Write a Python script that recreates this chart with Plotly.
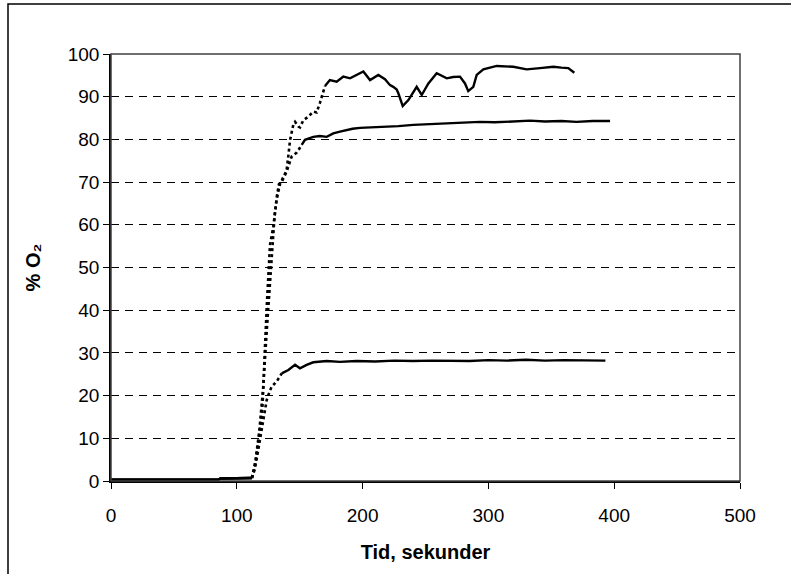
import plotly.graph_objects as go

# Series A (upper curve, ~96 %)
tA = [0, 40, 85, 87, 100, 112, 114.5, 116.3, 117.9, 119.8, 120.6, 121.1, 122.4, 124, 126.4, 129, 130.4, 131.7, 134.3,
      139.6, 141, 142.3, 144.9, 146.3, 149, 150.2, 152.9, 156.8, 160.8, 163.5, 166, 167.5, 170.1, 174, 179.4,
      184.7, 190, 195.3, 200.6, 205.9, 212.5, 217.8, 221.8, 224.4, 227.1, 228.4, 231.9, 236.4, 240.3, 243,
      247, 252.3, 258.9, 266.9, 272, 277.4, 281.4, 284, 288, 290.7, 296, 306.6, 319.8, 330.4, 341, 351.6,
      358, 363.5, 368.3]
vA = [0.3, 0.3, 0.3, 0.6, 0.6, 0.7, 3.4, 7.7, 11.2, 14.7, 18.6, 23.7, 31.4, 42, 55.3, 59.5, 63.5, 66, 69.5,
      72.8, 76.2, 79.8, 83.4, 84.1, 83, 82.8, 84.5, 85.3, 86.5, 86.3, 88.5, 90, 92.5, 93.9, 93.5,
      94.7, 94.3, 95.1, 95.9, 93.9, 95.1, 94.1, 92.7, 92.3, 91.7, 90.8, 87.8, 89.2, 91.2, 92.3,
      90.4, 93.1, 95.5, 94.3, 94.6, 94.7, 93.1, 91.3, 92.3, 95.1, 96.4, 97.2, 97, 96.4, 96.7, 97,
      96.8, 96.7, 95.6]

# Series B (middle curve, ~84 %)
tB = [0, 40, 85, 87, 100, 112, 115, 118, 121, 124, 127, 130, 132, 133.5, 135.7, 139.6, 143.6, 147.6, 151.6,
      154.2, 160.8, 166, 171.5, 176.7, 182, 187.4, 192, 197.9, 205, 213.8, 221, 228.4, 240.3, 255, 270,
      282, 293.3, 305, 318, 333, 345, 358, 370, 383, 396.7]
vB = [0.3, 0.3, 0.3, 0.6, 0.6, 0.7, 5, 12, 22, 36, 50, 62, 67, 69.5, 70.1, 72.4, 76, 76.9, 78.7,
      79.9, 80.6, 80.8, 80.6, 81.4, 81.8, 82.2, 82.5, 82.7, 82.8, 82.8, 83, 83.1, 83.4, 83.6, 83.8,
      83.9, 84.1, 84, 84.2, 84.4, 84.2, 84.3, 84.1, 84.3, 84.3]

# Series C (lower curve, ~28 %)
tC = [0, 40, 85, 87, 100, 112, 114, 116, 118, 120, 122, 123.8, 125, 127.7, 131.7, 135.7, 141, 146.3,
      150.2, 155.5, 160.8, 171.5, 182, 195, 210, 225, 240, 255, 270, 285, 300, 315, 330, 345, 360,
      375, 393]
vC = [0.3, 0.3, 0.3, 0.6, 0.6, 0.7, 2.5, 5.5, 9, 12.5, 16, 19, 20.1, 22.1, 23.3, 25.2, 26, 27.2,
      26.4, 27.2, 27.8, 28.1, 27.9, 28.1, 28, 28.2, 28.1, 28.2, 28.2, 28.1, 28.3, 28.2, 28.4, 28.2, 28.3,
      28.3, 28.2]

# time window in which each curve rises steeply (drawn sparser/dotted in the original)
rise_windows = [(112, 170.1), (112, 151.6), (112, 135.7)]

x_ticks = [0, 100, 200, 300, 400, 500]
y_ticks = [0, 10, 20, 30, 40, 50, 60, 70, 80, 90, 100]

W, H = 791, 574
L, R, T, B = 111, 51, 54, 93
pw, ph = W - L - R, H - T - B

fig = go.Figure()
for (t, v), (r0, r1) in zip([(tA, vA), (tB, vB), (tC, vC)], rise_windows):
    pre = [(a, b) for a, b in zip(t, v) if a <= r0]
    mid = [(a, b) for a, b in zip(t, v) if r0 <= a <= r1]
    post = [(a, b) for a, b in zip(t, v) if a >= r1]
    for seg, dash in [(pre, "solid"), (mid, "dot"), (post, "solid")]:
        fig.add_trace(go.Scatter(x=[p[0] for p in seg], y=[p[1] for p in seg], mode="lines",
                                 line=dict(color="black", width=2.4 if dash == "solid" else 2.6, dash=dash),
                                 showlegend=False, hoverinfo="skip"))

font = "Liberation Sans, Arial, sans-serif"
fig.update_layout(
    width=W, height=H,
    margin=dict(l=L, r=R, t=T, b=B),
    paper_bgcolor="white", plot_bgcolor="white",
    font=dict(family=font, size=19, color="black"),
    xaxis=dict(range=[0, 500], tickvals=x_ticks, ticks="outside", ticklen=6, tickcolor="black",
               ticklabelstandoff=10,
               showline=True, linecolor="black", linewidth=1.5, showgrid=False, zeroline=False,
               title=dict(text="<b>Tid, sekunder</b>", font=dict(size=20), standoff=20)),
    yaxis=dict(range=[0, 100], tickvals=y_ticks, ticks="outside", ticklen=6, tickcolor="black",
               showline=True, linecolor="black", linewidth=1.5, showgrid=True,
               gridcolor="black", gridwidth=1, griddash="8px,6px", zeroline=False,
               title=dict(text="<b>% O\u2082</b>", font=dict(size=20), standoff=22)),
    shapes=[
        dict(type="rect", xref="paper", yref="paper", x0=0, y0=0, x1=1, y1=1,
             line=dict(color="#404040", width=1.5), layer="above"),
        dict(type="rect", xref="paper", yref="paper",
             x0=(8 - L) / pw, y0=(H - B - 590) / ph, x1=(800 - L) / pw, y1=(H - B - 4) / ph,
             line=dict(color="black", width=1.5), layer="below"),
    ],
)
fig.write_html("out.html")
